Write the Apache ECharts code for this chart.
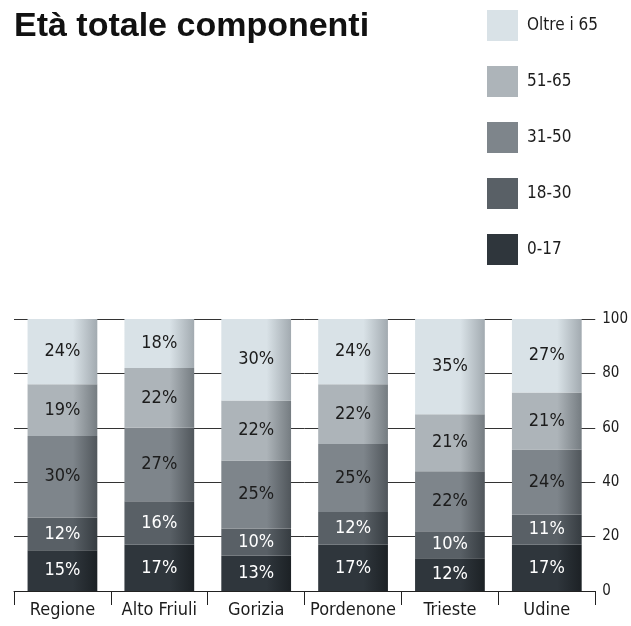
<!DOCTYPE html>
<html lang="it">
<head>
    <meta charset="UTF-8">
    <title>Età totale componenti</title>
    <script src="https://cdn.jsdelivr.net/npm/echarts@6/dist/echarts.min.js"></script>
    <style>
        html, body { margin: 0; padding: 0; background: #fff; }
        #chart { width: 631px; height: 626px; }
    </style>
</head>
<body>
<div id="chart"></div>
<script type="text/javascript">
    // dati
    var categorie = ['Regione', 'Alto Friuli', 'Gorizia', 'Pordenone', 'Trieste', 'Udine'];
    var fasce = ['0-17', '18-30', '31-50', '51-65', 'Oltre i 65'];
    var eta0_17 = [15, 17, 13, 17, 12, 17];
    var eta18_30 = [12, 16, 10, 12, 10, 11];
    var eta31_50 = [30, 27, 25, 25, 22, 24];
    var eta51_65 = [19, 22, 22, 22, 21, 21];
    var oltre65 = [24, 18, 30, 24, 35, 27];
    var tickY = [0, 20, 40, 60, 80, 100];

    var valori = [eta0_17, eta18_30, eta31_50, eta51_65, oltre65];
    var colori = ['#2f363c', '#596066', '#7e858b', '#adb4b9', '#d9e2e7'];
    var scuri = ['#1c2125', '#363c41', '#50565b', '#757c81', '#a2aab0'];
    var coloriTesto = ['#ffffff', '#ffffff', '#1c1c1c', '#1c1c1c', '#1c1c1c'];
    var fontStretto = '"Liberation Sans Narrow", "DejaVu Sans Condensed", sans-serif';

    var serie = fasce.map(function (nome, i) {
        return {
            name: nome,
            type: 'bar',
            stack: 'tot',
            barWidth: '72%',
            data: valori[i],
            itemStyle: {
                color: new echarts.graphic.LinearGradient(0, 0, 1, 0, [
                    { offset: 0, color: colori[i] },
                    { offset: 0.65, color: colori[i] },
                    { offset: 1, color: scuri[i] }
                ])
            },
            label: {
                show: true,
                position: 'inside',
                formatter: '{c}%',
                color: coloriTesto[i],
                fontFamily: fontStretto,
                fontSize: 18
            }
        };
    });

    var myChart = echarts.init(document.getElementById('chart'));
    myChart.setOption({
        animation: false,
        title: {
            text: 'Età totale componenti',
            left: 9,
            top: 5,
            textStyle: {
                fontFamily: '"Liberation Sans", Arial, sans-serif',
                fontWeight: 900,
                fontSize: 34,
                color: '#111'
            }
        },
        legend: {
            orient: 'vertical',
            left: 482,
            top: 5,
            itemWidth: 31,
            itemHeight: 31,
            itemGap: 25,
            icon: 'rect',
            data: fasce.slice().reverse().map(function (nome) {
                return { name: nome, itemStyle: { color: colori[fasce.indexOf(nome)] } };
            }),
            textStyle: {
                fontFamily: fontStretto,
                fontSize: 17,
                color: '#1c1c1c',
                padding: [0, 0, 0, 4]
            },
            selectedMode: false
        },
        grid: {
            left: 14,
            right: 31,
            top: 319,
            bottom: 35,
            containLabel: false
        },
        xAxis: {
            type: 'category',
            data: categorie,
            axisLine: { lineStyle: { color: '#222', width: 1 } },
            axisTick: { show: true, length: 14, alignWithLabel: false, lineStyle: { color: '#222' } },
            axisLabel: {
                interval: 0,
                color: '#1c1c1c',
                fontFamily: fontStretto,
                fontSize: 18,
                margin: 10
            }
        },
        yAxis: {
            type: 'value',
            position: 'right',
            min: tickY[0],
            max: tickY[tickY.length - 1],
            interval: 20,
            axisLine: { show: false },
            axisTick: { show: false },
            splitLine: { lineStyle: { color: '#333', width: 1 } },
            axisLabel: {
                color: '#1c1c1c',
                fontFamily: fontStretto,
                fontSize: 15,
                margin: 7
            }
        },
        series: serie
    });
</script>
</body>
</html>
